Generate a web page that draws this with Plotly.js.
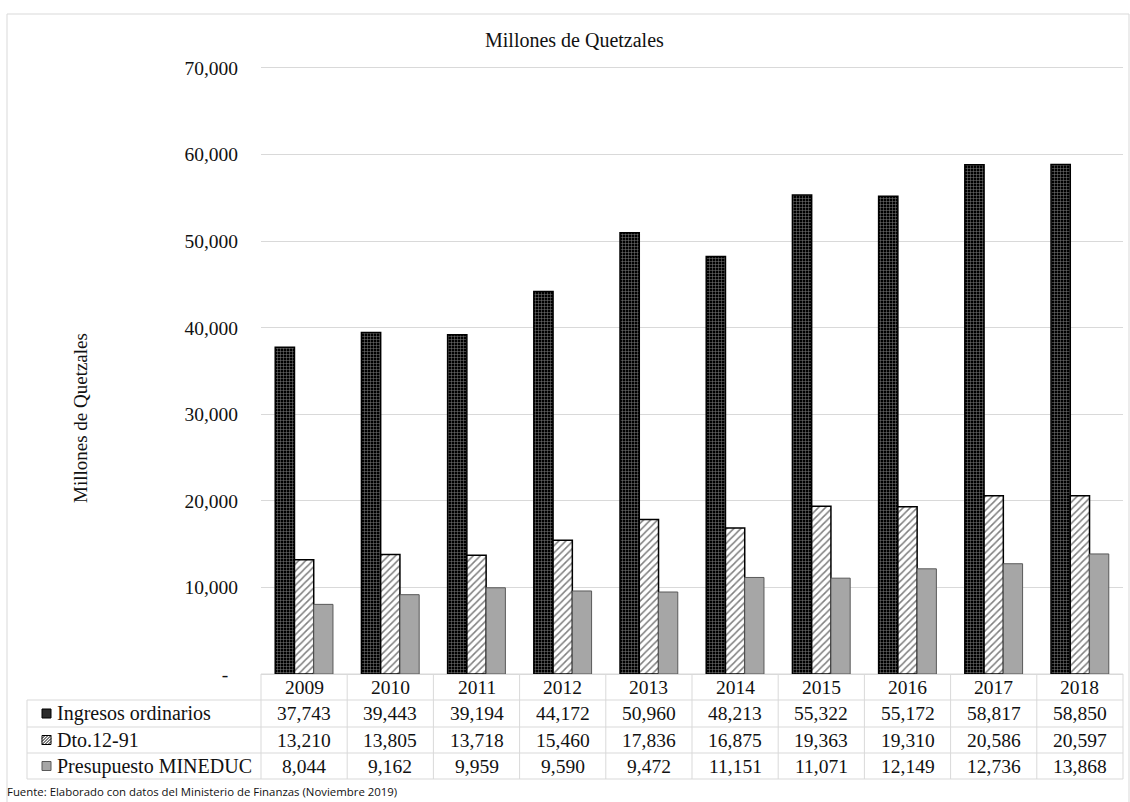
<!DOCTYPE html>
<html>
<head>
<meta charset="utf-8">
<script src="https://cdn.plot.ly/plotly-3.0.1.min.js"></script>
<style>html,body{margin:0;padding:0;background:#fff;}#chart{width:1130px;height:802px;}</style>
</head>
<body>
<div id="chart"></div>
<script>
const years = ["2009","2010","2011","2012","2013","2014","2015","2016","2017","2018"];
const ingresos = [37743, 39443, 39194, 44172, 50960, 48213, 55322, 55172, 58817, 58850];
const dto = [13210, 13805, 13718, 15460, 17836, 16875, 19363, 19310, 20586, 20597];
const presupuesto = [8044, 9162, 9959, 9590, 9472, 11151, 11071, 12149, 12736, 13868];
const seriesNames = ["Ingresos ordinarios", "Dto.12-91", "Presupuesto MINEDUC"];
const yTickVals = [0, 10000, 20000, 30000, 40000, 50000, 60000, 70000];
const yTickText = ["-\u00a0\u00a0", "10,000", "20,000", "30,000", "40,000", "50,000", "60,000", "70,000"];
const chartTitle = "Millones de Quetzales";
const yTitle = "Millones de Quetzales";
const footer = "Fuente: Elaborado con datos del Ministerio de Finanzas (Noviembre 2019)";

// layout geometry (pixels)
const W = 1130, H = 802;
const L = 261, R = 1123, T = 68, B = 674;
const px = p => (p - L) / (R - L);
const py = p => (B - p) / (B - T);
const serif = "Liberation Serif, Times New Roman, serif";
const txt = "#111";
const grid = "#d9d9d9";
const fs = 19.5;

const fmt = v => v.toLocaleString("en-US");

const traces = [
  {type: "bar", name: seriesNames[0], x: years, y: ingresos,
   marker: {color: "#000", line: {color: "#000", width: 1.5},
            pattern: {shape: "+", bgcolor: "#000", fgcolor: "#ffffff", size: 3, solidity: 0.3, fillmode: "overlay"}}},
  {type: "bar", name: seriesNames[1], x: years, y: dto,
   marker: {color: "#fff", line: {color: "#000", width: 1.5},
            pattern: {shape: "/", bgcolor: "#fff", fgcolor: "#000", size: 5, solidity: 0.3, fillmode: "overlay"}}},
  {type: "bar", name: seriesNames[2], x: years, y: presupuesto,
   marker: {color: "#a6a6a6", line: {color: "#595959", width: 1}}}
];

const annotations = [];
const shapes = [];

// title
annotations.push({text: chartTitle, xref: "paper", yref: "paper", x: px(574), y: py(40),
  xanchor: "center", yanchor: "middle", showarrow: false, font: {family: serif, size: 20, color: txt}});
// y title
annotations.push({text: yTitle, xref: "paper", yref: "paper", x: px(80), y: py(418), textangle: -90,
  xanchor: "center", yanchor: "middle", showarrow: false, font: {family: serif, size: 19, color: txt}});
// footer
annotations.push({text: footer, xref: "paper", yref: "paper", x: px(5), y: py(791),
  xanchor: "left", yanchor: "middle", showarrow: false, font: {family: "Open Sans, sans-serif", size: 11.4, color: txt}});

// table
const rowTops = [674, 700, 727, 753, 779];
const rowData = [ingresos, dto, presupuesto];
years.forEach((yr, i) => {
  annotations.push({text: yr, xref: "x", yref: "paper", x: i, y: py((rowTops[0] + rowTops[1]) / 2),
    xanchor: "center", yanchor: "middle", showarrow: false, font: {family: serif, size: fs, color: txt}});
  rowData.forEach((arr, r) => {
    annotations.push({text: fmt(arr[i]), xref: "x", yref: "paper", x: i, y: py((rowTops[r + 1] + rowTops[r + 2]) / 2),
      xanchor: "center", yanchor: "middle", showarrow: false, font: {family: serif, size: fs, color: txt}});
  });
});
seriesNames.forEach((n, r) => {
  annotations.push({text: n, xref: "paper", yref: "paper", x: px(55), y: py((rowTops[r + 1] + rowTops[r + 2]) / 2),
    xanchor: "left", yanchor: "middle", showarrow: false, font: {family: serif, size: 20, color: txt}});
});

// table lines
const line = (x0, y0, x1, y1, c) => shapes.push({type: "line", xref: "paper", yref: "paper",
  x0: px(x0), y0: py(y0), x1: px(x1), y1: py(y1), line: {color: c || grid, width: 1}, layer: "below"});
line(L, rowTops[0], R, rowTops[0]);
for (let r = 1; r < rowTops.length; r++) line(27, rowTops[r], R, rowTops[r]);
line(27, rowTops[1], 27, rowTops[4]);
for (let k = 0; k <= years.length; k++) {
  const x = L + k * (R - L) / years.length;
  line(x, rowTops[0], x, rowTops[4]);
}
// outer border
line(7, 14, 1129, 14);
line(7, 14, 7, 805);
line(1129, 14, 1129, 805);

// legend keys
const keyY = r => (rowTops[r + 1] + rowTops[r + 2]) / 2;
const rect = (x0, y0, x1, y1, fill, lc) => shapes.push({type: "rect", xref: "paper", yref: "paper",
  x0: px(x0), y0: py(y0), x1: px(x1), y1: py(y1), fillcolor: fill, line: {color: lc, width: 1}});
rect(42, keyY(0) - 4.5, 51, keyY(0) + 4.5, "#2b2b2b", "#000");
rect(42, keyY(1) - 4.5, 51, keyY(1) + 4.5, "#fff", "#000");
for (let d = -6; d <= 6; d += 3) {
  const x0 = Math.max(42, 42 + d), x1 = Math.min(51, 51 + d);
  shapes.push({type: "line", xref: "paper", yref: "paper",
    x0: px(x0), y0: py(keyY(1) + 4.5 - (x0 - 42 - d)), x1: px(x1), y1: py(keyY(1) + 4.5 - (x1 - 42 - d)),
    line: {color: "#000", width: 1}});
}
rect(42, keyY(2) - 4.5, 51, keyY(2) + 4.5, "#a6a6a6", "#595959");

const layout = {
  width: W, height: H,
  margin: {l: L, r: W - R, t: T, b: H - B, pad: 0},
  paper_bgcolor: "#fff", plot_bgcolor: "#fff",
  showlegend: false,
  barmode: "group", bargap: 0.33, bargroupgap: 0,
  xaxis: {type: "category", showticklabels: false, ticks: "", showgrid: false, zeroline: false,
          showline: true, linecolor: grid, linewidth: 1, mirror: true, range: [-0.5, 9.5], fixedrange: true},
  yaxis: {range: [0, 70000], tickvals: yTickVals, ticktext: yTickText, showgrid: true, gridcolor: grid, gridwidth: 1,
          zeroline: false, showline: false, ticks: "", ticklabelstandoff: 22,
          tickfont: {family: serif, size: fs, color: txt}, fixedrange: true},
  annotations: annotations,
  shapes: shapes
};

Plotly.newPlot("chart", traces, layout, {displayModeBar: false, staticPlot: true});
</script>
</body>
</html>
